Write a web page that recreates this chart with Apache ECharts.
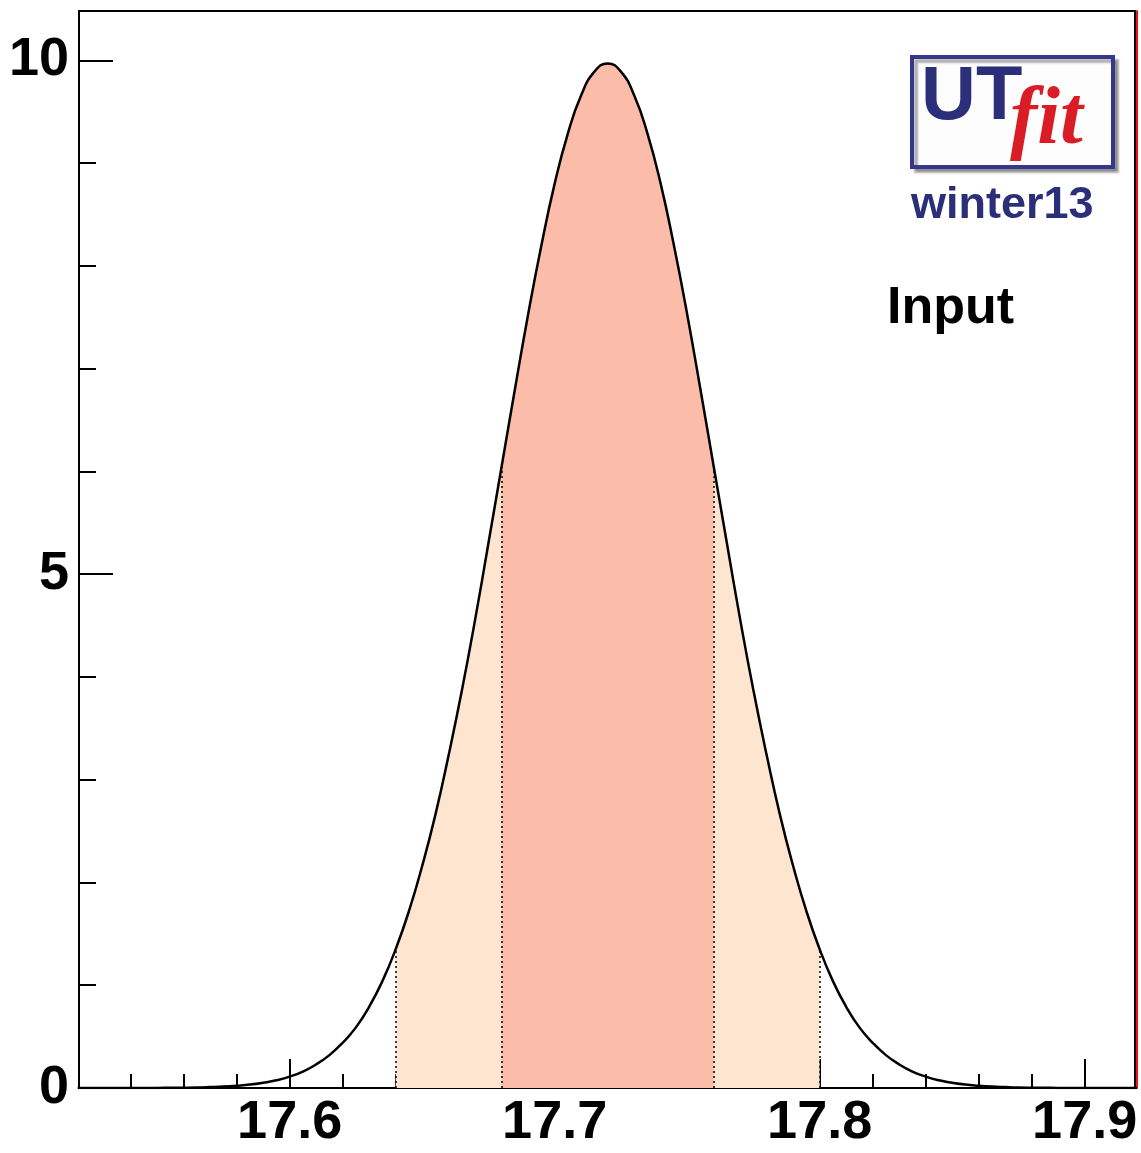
<!DOCTYPE html>
<html>
<head>
<meta charset="utf-8">
<script src="https://cdn.jsdelivr.net/npm/echarts@6/dist/echarts.min.js"></script>
<style>
  html, body { margin: 0; padding: 0; background: #fff; }
  #chart { width: 1141px; height: 1153px; }
</style>
</head>
<body>
<div id="chart"></div>
<script>
// x positions of the sampled curve
const xGrid = [
  17.520, 17.525, 17.530, 17.535, 17.540, 17.545, 17.550, 17.555, 17.560, 17.565,
  17.570, 17.575, 17.580, 17.585, 17.590, 17.595, 17.600, 17.605, 17.610, 17.615,
  17.620, 17.625, 17.630, 17.635, 17.640, 17.645, 17.650, 17.655, 17.660, 17.665,
  17.670, 17.675, 17.680, 17.685, 17.690, 17.695, 17.700, 17.705, 17.710, 17.715,
  17.720,
  17.725, 17.730, 17.735, 17.740, 17.745, 17.750, 17.755, 17.760, 17.765, 17.770,
  17.775, 17.780, 17.785, 17.790, 17.795, 17.800, 17.805, 17.810, 17.815, 17.820,
  17.825, 17.830, 17.835, 17.840, 17.845, 17.850, 17.855, 17.860, 17.865, 17.870,
  17.875, 17.880, 17.885, 17.890, 17.895, 17.900, 17.905, 17.910, 17.915, 17.920
]
// probability density
const density = [
  0.000, 0.000, 0.000, 0.000, 0.000, 0.001, 0.001, 0.002, 0.003, 0.005,
  0.009, 0.014, 0.022, 0.033, 0.051, 0.075, 0.111, 0.16, 0.23, 0.32,
  0.44, 0.59, 0.79, 1.04, 1.35, 1.72, 2.16, 2.66, 3.24, 3.87,
  4.56, 5.30, 6.05, 6.80, 7.53, 8.20, 8.80, 9.29, 9.66, 9.89,
  9.97,
  9.89, 9.66, 9.29, 8.80, 8.20, 7.53, 6.80, 6.05, 5.30, 4.56,
  3.87, 3.24, 2.66, 2.16, 1.72, 1.35, 1.04, 0.79, 0.59, 0.44,
  0.32, 0.23, 0.16, 0.111, 0.075, 0.051, 0.033, 0.022, 0.014, 0.009,
  0.005, 0.003, 0.002, 0.001, 0.001, 0.000, 0.000, 0.000, 0.000, 0.000
]
// 68% and 95% intervals
const band68 = [17.68, 17.76]
const band95 = [17.64, 17.80]

const xMajorTicks = [17.6, 17.7, 17.8, 17.9]
const xMinorTicks = [17.54, 17.56, 17.58, 17.62, 17.64, 17.66, 17.68, 17.72, 17.74, 17.76, 17.78,
  17.82, 17.84, 17.86, 17.88, 17.92]
const yMajorTicks = [0, 5, 10]
const yMinorTicks = [1, 2, 3, 4, 6, 7, 8, 9]

const xMin = 17.5205
const xMax = 17.919
const yMax = 10.48

const font = '"Liberation Sans", Arial, Helvetica, sans-serif'

const curve = xGrid.map((x, i) => [x, density[i]])
const inBand = (b) => curve.filter(p => p[0] >= b[0] - 1e-9 && p[0] <= b[1] + 1e-9)
const valueAt = (x) => {
  const i = xGrid.findIndex(v => Math.abs(v - x) < 1e-9)
  return density[i]
}
const edgeLine = (x) => [{ coord: [x, 0] }, { coord: [x, valueAt(x)] }]

const chart = echarts.init(document.getElementById('chart'))

const option = {
  animation: false,
  grid: {
    left: 79, right: 6, top: 11, bottom: 65,
    show: true, borderColor: '#000', borderWidth: 2
  },
  xAxis: [
    {
      type: 'value', min: xMin, max: xMax,
      axisLine: { show: true, lineStyle: { color: '#e8141c', width: 2 } },
      axisTick: { show: true, inside: true, length: 29, customValues: xMajorTicks, lineStyle: { color: '#000', width: 2 } },
      axisLabel: {
        customValues: xMajorTicks, formatter: v => v.toFixed(1),
        fontSize: 54, fontWeight: 'bold', color: '#000', fontFamily: font, margin: 8
      },
      splitLine: { show: false }
    },
    {
      type: 'value', min: xMin, max: xMax, position: 'bottom', offset: 2,
      axisLine: { show: true, lineStyle: { color: '#000', width: 2 } },
      axisTick: { show: true, inside: true, length: 14, customValues: xMinorTicks, lineStyle: { color: '#000', width: 2 } },
      axisLabel: { show: false },
      splitLine: { show: false }
    }
  ],
  yAxis: [
    {
      type: 'value', min: 0, max: yMax,
      axisLine: { show: true, lineStyle: { color: '#000', width: 2 } },
      axisTick: { show: true, inside: true, length: 34, customValues: yMajorTicks, lineStyle: { color: '#000', width: 2 } },
      axisLabel: {
        customValues: yMajorTicks,
        fontSize: 54, fontWeight: 'bold', color: '#000', fontFamily: font, margin: 10
      },
      splitLine: { show: false }
    },
    {
      type: 'value', min: 0, max: yMax, position: 'left',
      axisLine: { show: false },
      axisTick: { show: true, inside: true, length: 17, customValues: yMinorTicks, lineStyle: { color: '#000', width: 2 } },
      axisLabel: { show: false },
      splitLine: { show: false }
    },
    {
      type: 'value', min: 0, max: yMax, position: 'right', offset: 2,
      axisLine: { show: true, lineStyle: { color: '#e8141c', width: 2 } },
      axisTick: { show: false },
      axisLabel: { show: false },
      splitLine: { show: false }
    }
  ],
  series: [
    {
      name: '95%', type: 'line', data: inBand(band95), smooth: true,
      symbol: 'none', lineStyle: { width: 0 },
      areaStyle: { color: '#fde5d0', opacity: 1 },
      markLine: {
        silent: true, symbol: 'none', label: { show: false },
        lineStyle: { color: '#000', width: 1.5, type: [2, 3] },
        data: [edgeLine(band95[0]), edgeLine(band95[1])]
      },
      z: 1
    },
    {
      name: '68%', type: 'line', data: inBand(band68), smooth: true,
      symbol: 'none', lineStyle: { width: 0 },
      areaStyle: { color: '#fbbca9', opacity: 1 },
      markLine: {
        silent: true, symbol: 'none', label: { show: false },
        lineStyle: { color: '#000', width: 1.5, type: [2, 3] },
        data: [edgeLine(band68[0]), edgeLine(band68[1])]
      },
      z: 2
    },
    {
      name: 'pdf', type: 'line', data: curve, smooth: true,
      symbol: 'none', clip: true,
      lineStyle: { color: '#000', width: 2.5 },
      z: 3
    }
  ],
  graphic: [
    {
      type: 'rect', shape: { x: 912, y: 57, width: 201, height: 110 },
      style: {
        fill: '#fefdfe', stroke: '#34378c', lineWidth: 4,
        shadowColor: 'rgba(0,0,0,0.3)', shadowOffsetX: 4, shadowOffsetY: 4, shadowBlur: 2
      }
    },
    {
      type: 'text', x: 921, y: 98,
      style: { text: 'UT', font: 'bold 76px ' + font, fill: '#2b2e78', verticalAlign: 'middle' }
    },
    {
      type: 'text', x: 1010, y: 122,
      style: { text: 'fit', font: 'bold italic 82px "Liberation Serif", "Times New Roman", serif', fill: '#d91c26', verticalAlign: 'middle' }
    },
    {
      type: 'text', x: 911, y: 206,
      style: { text: 'winter13', font: 'bold 45px ' + font, fill: '#2b2e78', verticalAlign: 'middle' }
    },
    {
      type: 'text', x: 887, y: 309,
      style: { text: 'Input', font: 'bold 52px ' + font, fill: '#000', verticalAlign: 'middle' }
    }
  ]
}
chart.setOption(option)

window.addEventListener('resize', () => chart.resize())
</script>
</body>
</html>
